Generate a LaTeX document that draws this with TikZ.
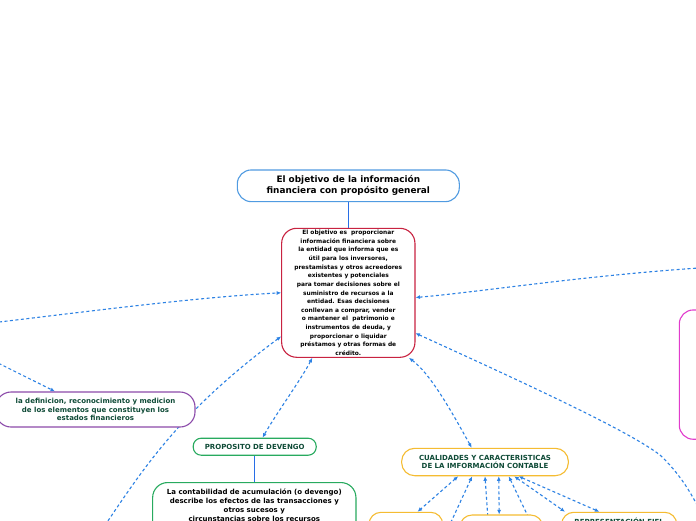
\documentclass[tikz,border=0pt]{standalone}
\usepackage{fontspec}
\setmainfont{DejaVu Sans}
\usetikzlibrary{arrows.meta}
\pgfdeclarelayer{bg}
\pgfsetlayers{bg,main}
\definecolor{cblue}{RGB}{45,130,228}
\definecolor{lblue}{RGB}{80,155,225}
\definecolor{sblue}{RGB}{40,110,230}
\definecolor{crim}{RGB}{200,35,65}
\definecolor{purp}{RGB}{140,75,170}
\definecolor{grn}{RGB}{40,170,95}
\definecolor{yel}{RGB}{245,188,50}
\definecolor{mag}{RGB}{225,60,205}
\definecolor{tgrn}{RGB}{15,75,55}
\tikzset{
  shapebox/.style={draw, fill=white, line width=1.1pt, inner sep=0pt, align=center},
  titlebox/.style={shapebox, draw=lblue, rounded corners=14pt, minimum width=222pt, minimum height=31.7pt,
    font=\fontsize{8.9}{11}\selectfont\bfseries},
  centbox/.style={shapebox, draw=crim, rounded corners=15pt, minimum width=133.3pt, minimum height=129pt,
    font=\fontsize{5.9}{8.64}\selectfont\bfseries},
  purpbox/.style={shapebox, draw=purp, rounded corners=15pt, text=tgrn,
    font=\fontsize{7}{8.4}\selectfont\bfseries},
  grnbox/.style={shapebox, draw=grn, text=tgrn, font=\fontsize{7}{8.6}\selectfont\bfseries},
  yelbox/.style={shapebox, draw=yel, text=tgrn, font=\fontsize{7}{8.4}\selectfont\bfseries},
  magbox/.style={shapebox, draw=mag, rounded corners=14pt},
  plaintxt/.style={inner sep=0pt, align=center},
  solidc/.style={draw=sblue, line width=1.2pt},
  conn/.style={draw=cblue, line width=1.1pt, dash pattern=on 3pt off 2.5pt,
    {Latex[length=4.5pt,width=4pt]}-{Latex[length=4.5pt,width=4pt]}}
}
\begin{document}
\begin{tikzpicture}[x=1pt,y=-1pt]
\useasboundingbox (0,0) rectangle (696,520);
\begin{pgfonlayer}{bg}
\fill[white] (0,0) rectangle (696,520);
\end{pgfonlayer}

% nodes
\node[titlebox] (title) at (348.3,185.8) {El objetivo de la información\\financiera con propósito general};
\node[centbox] (central) at (348.3,292.8) {El objetivo es~ proporcionar\\información financiera sobre\\la entidad que informa que es\\útil para los inversores,\\prestamistas y otros acreedores\\existentes y potenciales\\para tomar decisiones sobre el\\suministro de recursos a la\\entidad. Esas decisiones\\conllevan a comprar, vender\\o mantener el~ patrimonio e\\instrumentos de deuda, y\\proporcionar o liquidar\\préstamos y otras formas de\\crédito.};
\node[purpbox, minimum width=199pt, minimum height=35pt] (defin) at (95.5,409.5) {la definicion, reconocimiento y medicion\\de los elementos que constituyen los\\estados financieros};
\node[grnbox, rounded corners=8pt, minimum width=123pt, minimum height=17pt] (prop) at (254.7,446.7) {PROPOSITO DE DEVENGO};
\node[grnbox, rounded corners=15pt, minimum width=203.3pt, minimum height=80pt, anchor=north] (deveng) at (254.3,482) {};
\node[plaintxt, anchor=north, font=\fontsize{7}{8.9}\selectfont\bfseries] (devtxt) at (254.3,489) {La contabilidad de acumulación (o devengo)\\describe los efectos de las transacciones y\\otros sucesos y\\circunstancias sobre los recursos};
\node[yelbox, rounded corners=13pt, minimum width=166.7pt, minimum height=27.4pt] (cual) at (485,462) {CUALIDADES Y CARACTERISTICAS\\DE LA IMFORMACIÓN CONTABLE};
\node[yelbox, rounded corners=12pt, minimum width=73.7pt, minimum height=30pt] (qa) at (405.85,527.3) {};
\node[yelbox, rounded corners=12pt, minimum width=82.7pt, minimum height=30pt] (qb) at (501.35,530) {};
\node[yelbox, rounded corners=12pt, minimum width=115pt, minimum height=30pt] (qc) at (619.2,527.3) {};
\node[plaintxt, anchor=base, text=tgrn, font=\fontsize{7}{8.4}\selectfont\bfseries] (qctxt) at (619.2,524) {REPRESENTACIÓN FIEL};
\node[magbox, minimum width=120pt, minimum height=129.3pt] (mg) at (739.3,374.6) {};

% free ends
\coordinate (La) at (-5,322.5);
\coordinate (Lb) at (-5,361.5);
\coordinate (Lc) at (95,540);
\coordinate (Re) at (706,267.5);
\coordinate (Rf) at (708,528);
\coordinate (B1) at (445,535);
\coordinate (B2) at (489.4,540);
\coordinate (B3) at (537,535);

% connectors
\begin{pgfonlayer}{bg}
\draw[solidc] (title) -- (central);
\draw[solidc] (prop.south) -- (prop.south |- deveng.north);
\draw[conn] (La) .. controls (100,310) and (200,297) .. (central.west);
\draw[conn] (Lb) -- (defin.156.6);
\draw[conn] (central.213.5) .. controls (175,415) and (140,474) .. (Lc);
\draw[conn] (central.241.3) .. controls (302,378) and (276,414) .. (prop.49.3);
\draw[conn] (central.-4.5) .. controls (480,292) and (580,276) .. (Re);
\draw[conn] (central.-31.1) .. controls (540,390) and (630,432) .. (660,455) .. controls (678,472) and (692,492) .. (Rf);
\draw[conn] (central.-47.2) .. controls (432,375) and (455,418) .. (cual.133.5);
\draw[conn] (cual.208.7) -- (qa.53.4);
\draw[conn] (cual.228.8) -- (B1);
\draw[conn] (cual.270) -- (B2);
\draw[conn] (cual.-46.5) -- (qb.98.9);
\draw[conn] (cual.-31.9) -- (B3);
\draw[conn] (cual.-26.9) -- (qc.164.5);
\draw[conn] (cual.-23.2) -- (qc.142);
\end{pgfonlayer}
\end{tikzpicture}
\end{document}
